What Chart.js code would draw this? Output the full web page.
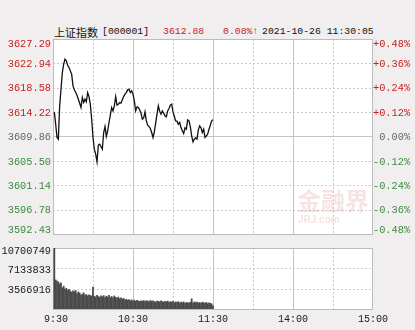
<!DOCTYPE html>
<html>
<head>
<meta charset="utf-8">
<script src="https://cdn.jsdelivr.net/npm/chart.js@4.4.0/dist/chart.umd.min.js"></script>
<style>
  body { margin:0; background:#f0eeee; width:415px; height:330px; overflow:hidden; position:relative; }
  canvas { position:absolute; left:0; }
  #priceChart { top:0; }
  #volChart { top:240px; }
  .t { position:absolute; top:25px; font-family:"Liberation Mono", monospace; font-size:9.8px; line-height:14px; white-space:pre; color:#111; }
  .red { color:#cc1a1a; }
</style>
</head>
<body>
<span class="t" style="left:54px;font-family:'Noto Sans CJK SC';font-size:11px;">上证指数</span>
<span class="t" style="left:102px;">[000001]</span>
<span class="t red" style="left:163px;">3612.88</span>
<span class="t red" style="left:223px;">0.08%↑</span>
<span class="t" style="left:262px;">2021-10-26 11:30:05</span>
<canvas id="priceChart" width="415" height="240"></canvas>
<canvas id="volChart" width="415" height="90"></canvas>
<script>
// previous close, axis ticks
var prevClose = 3609.86;
var priceTicks = [3627.29, 3622.94, 3618.58, 3614.22, 3609.86, 3605.50, 3601.14, 3596.78, 3592.43];
var pctTicks = ['+0.48%', '+0.36%', '+0.24%', '+0.12%', ' 0.00%', '-0.12%', '-0.24%', '-0.36%', '-0.48%'];
var volTicks = [10700749, 7133833, 3566916];
var timeTicks = [' 9:30', '10:30', '11:30', '14:00', '15:00'];
var timeTickMinutes = [0, 60, 120, 180, 240];

// one value per minute from 9:31 to 11:30
var prices = [
  3614.26, 3612.06, 3609.68, 3609.38, 3615.34, 3618.31, 3621.29, 3622.78, 3623.68, 3623.38,
  3622.60, 3622.19, 3621.59, 3620.99, 3618.91, 3618.20, 3617.72, 3617.24, 3616.53, 3615.81,
  3615.04, 3616.83, 3615.93, 3616.53, 3616.05, 3617.72, 3617.00, 3615.63, 3612.95, 3609.68,
  3607.59, 3606.70, 3605.33, 3608.31, 3608.49, 3608.07, 3607.59, 3610.57, 3611.64, 3609.86,
  3610.87, 3612.36, 3613.67, 3615.04, 3614.44, 3615.34, 3617.00, 3615.46, 3615.63, 3615.93,
  3615.81, 3616.41, 3617.00, 3617.42, 3617.72, 3618.20, 3618.31, 3617.72, 3618.02, 3617.42,
  3616.23, 3614.44, 3615.16, 3615.04, 3614.62, 3614.03, 3612.95, 3613.19, 3614.26, 3612.66,
  3611.88, 3611.64, 3611.29, 3610.57, 3609.68, 3610.69, 3612.24, 3613.85, 3615.34, 3614.38,
  3613.85, 3614.44, 3614.03, 3613.55, 3613.37, 3614.44, 3614.86, 3615.46, 3615.63, 3614.26,
  3613.43, 3612.66, 3612.60, 3612.06, 3612.36, 3611.46, 3610.87, 3610.39, 3611.40, 3611.17,
  3612.83, 3612.66, 3611.64, 3609.98, 3608.90, 3609.38, 3609.62, 3609.38, 3611.05, 3611.76,
  3611.40, 3610.57, 3611.17, 3609.68, 3609.98, 3610.27, 3611.17, 3611.88, 3612.66, 3612.88
];

var volumes = [
  10700749, 5100000, 4900000, 4750000, 4400000, 4600000, 3700000, 4000000, 3500000, 3650000,
  3300000, 3450000, 3150000, 2950000, 3200000, 3050000, 3250000, 2700000, 3000000, 2800000,
  2450000, 2600000, 2850000, 2400000, 2550000, 2300000, 2500000, 2350000, 2300000, 3850000,
  2250000, 2100000, 2400000, 2200000, 2050000, 2300000, 2150000, 2350000, 2000000, 2250000,
  2100000, 2400000, 2000000, 2200000, 1950000, 2300000, 2050000, 1900000, 2100000, 1800000,
  1950000, 1750000, 1850000, 1600000, 1700000, 1550000, 1650000, 1450000, 1600000, 1400000,
  1550000, 1350000, 1500000, 1400000, 1300000, 1450000, 1350000, 1500000, 1300000, 1450000,
  1400000, 1250000, 1500000, 1350000, 1450000, 1300000, 1200000, 1400000, 1350000, 1250000,
  1450000, 1300000, 1200000, 1350000, 1250000, 1400000, 1150000, 1300000, 1200000, 1350000,
  1100000, 1250000, 1150000, 1300000, 1050000, 1200000, 1100000, 1250000, 1000000, 1150000,
  1100000, 1050000, 1200000, 1800000, 1050000, 1250000, 1100000, 1200000, 1050000, 1150000,
  1000000, 1200000, 1100000, 1050000, 1150000, 950000, 1100000, 1000000, 900000, 550000
];

var minutes = prices.map(function (p, i) { return i + 1; });

var RED = '#c81e1e', GREEN = '#3c8c3c', GRAY = '#666666';
var LABEL_FONT = '10.3px "Liberation Mono", monospace';

function hline(ctx, a, y, dashed, color) {
  y = Math.round(y) + 0.5;
  ctx.beginPath();
  ctx.setLineDash(dashed ? [2, 2] : []);
  ctx.strokeStyle = color;
  ctx.moveTo(a.left, y); ctx.lineTo(a.right, y); ctx.stroke();
}
function vline(ctx, a, x, dashed, color) {
  x = Math.round(x) + 0.5;
  ctx.beginPath();
  ctx.setLineDash(dashed ? [2, 2] : []);
  ctx.strokeStyle = color;
  ctx.moveTo(x, a.top); ctx.lineTo(x, a.bottom); ctx.stroke();
}
function timeGrid(ctx, a, xs) {
  for (var m = 30; m < 240; m += 30) {
    vline(ctx, a, xs.getPixelForValue(m), m % 60 !== 0, m % 60 !== 0 ? '#cccccc' : '#c4c4c4');
  }
}

var priceGrid = {
  id: 'priceGrid',
  beforeDatasetsDraw: function (chart) {
    var ctx = chart.ctx, a = chart.chartArea, xs = chart.scales.x, ys = chart.scales.y;
    ctx.save();
    ctx.fillStyle = '#ffffff';
    ctx.fillRect(a.left, a.top, a.width, a.height);
    ctx.lineWidth = 1;
    priceTicks.forEach(function (v, i) {
      if (i === 0 || i === priceTicks.length - 1) return;
      hline(ctx, a, ys.getPixelForValue(v), v !== prevClose, v === prevClose ? '#c4c4c4' : '#cccccc');
    });
    timeGrid(ctx, a, xs);
    // watermark
    ctx.setLineDash([]);
    ctx.fillStyle = 'rgba(225,165,165,0.3)';
    ctx.font = 'bold 24px "Noto Sans CJK SC"';
    ctx.textBaseline = 'middle';
    ctx.textAlign = 'left';
    ctx.fillText('金融界', 297, 201);
    ctx.font = 'bold 10px "Liberation Sans"';
    ctx.fillText('JRJ.com', 298, 220);
    // border
    ctx.strokeStyle = '#bcbcbc';
    ctx.strokeRect(Math.round(a.left) + 0.5, Math.round(a.top) + 0.5, Math.round(a.width) - 1, Math.round(a.height));
    // labels
    ctx.font = LABEL_FONT;
    priceTicks.forEach(function (v, i) {
      var y = ys.getPixelForValue(v) + 1;
      y = Math.min(Math.max(y, a.top + 5.5), a.bottom - 3.5);
      ctx.fillStyle = v > prevClose ? RED : (v < prevClose ? GREEN : GRAY);
      ctx.textAlign = 'right';
      ctx.fillText(v.toFixed(2), a.left - 2, y);
      ctx.textAlign = 'left';
      ctx.fillText(pctTicks[i], a.right, y);
    });
    ctx.restore();
  }
};

var volGrid = {
  id: 'volGrid',
  beforeDatasetsDraw: function (chart) {
    var ctx = chart.ctx, a = chart.chartArea, xs = chart.scales.x, ys = chart.scales.y;
    ctx.save();
    ctx.fillStyle = '#ffffff';
    ctx.fillRect(a.left, a.top, a.width, a.height);
    ctx.lineWidth = 1;
    volTicks.forEach(function (v, i) {
      if (i === 0) return;
      hline(ctx, a, ys.getPixelForValue(v), true, '#cccccc');
    });
    timeGrid(ctx, a, xs);
    ctx.setLineDash([]);
    ctx.strokeStyle = '#bcbcbc';
    ctx.strokeRect(Math.round(a.left) + 0.5, Math.round(a.top) + 0.5, Math.round(a.width) - 1, Math.round(a.height));
    ctx.font = LABEL_FONT;
    ctx.textBaseline = 'middle';
    ctx.fillStyle = '#1a1a1a';
    ctx.textAlign = 'right';
    volTicks.forEach(function (v) {
      var y = Math.max(ys.getPixelForValue(v) + 1.5, a.top + 3);
      ctx.fillText(String(v), a.left - 2, y);
    });
    ctx.font = '10px "Liberation Mono", monospace';
    ctx.textAlign = 'center';
    timeTicks.forEach(function (t, i) {
      ctx.fillText(t, xs.getPixelForValue(timeTickMinutes[i]), a.bottom + 10);
    });
    ctx.restore();
  }
};

var priceCtx = document.getElementById('priceChart');
var priceChart = new Chart(priceCtx, {
  type: 'line',
  data: {
    datasets: [{
      data: prices.map(function (p, i) { return { x: minutes[i], y: p }; }),
      borderColor: '#111111',
      borderWidth: 1.3,
      pointRadius: 0,
      tension: 0
    }]
  },
  options: {
    responsive: false,
    animation: false,
    devicePixelRatio: 1,
    layout: { padding: { left: 53, right: 42, top: 39, bottom: 6 } },
    plugins: { legend: { display: false }, tooltip: { enabled: false } },
    scales: {
      x: { type: 'linear', min: 0, max: 240, display: false },
      y: { min: priceTicks[priceTicks.length - 1], max: priceTicks[0], display: false }
    }
  },
  plugins: [priceGrid]
});

var volCtx = document.getElementById('volChart');
var volChart = new Chart(volCtx, {
  type: 'bar',
  data: {
    datasets: [{
      data: volumes.map(function (v, i) { return { x: minutes[i], y: v }; }),
      backgroundColor: '#4a4a4a',
      barThickness: 1.1
    }]
  },
  options: {
    responsive: false,
    animation: false,
    devicePixelRatio: 1,
    layout: { padding: { left: 53, right: 42, top: 8, bottom: 21 } },
    plugins: { legend: { display: false }, tooltip: { enabled: false } },
    scales: {
      x: { type: 'linear', min: 0, max: 240, offset: false, display: false },
      y: { min: 0, max: volTicks[0], display: false }
    }
  },
  plugins: [volGrid]
});
</script>
</body>
</html>
